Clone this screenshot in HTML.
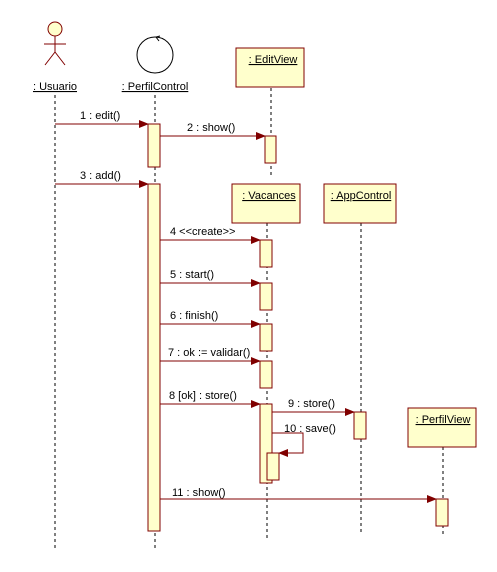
<!DOCTYPE html>
<html><head><style>body{margin:0;background:#fff}svg{display:block}text{font-family:"Liberation Sans",sans-serif;font-size:11px;fill:#000}</style></head><body>
<svg width="497" height="572" xmlns="http://www.w3.org/2000/svg">
<defs><marker id="a" markerWidth="10" markerHeight="8" refX="9" refY="4" orient="auto" markerUnits="userSpaceOnUse"><path d="M0,0L10,4L0,8z" fill="#800000"/></marker></defs>
<g stroke="#000" stroke-dasharray="3,3" fill="none">
<line x1="55" y1="95" x2="55" y2="550"/>
<line x1="155" y1="95" x2="155" y2="550"/>
<line x1="271" y1="88" x2="271" y2="176"/>
<line x1="267" y1="223" x2="267" y2="538"/>
<line x1="361" y1="223" x2="361" y2="533"/>
<line x1="443" y1="447" x2="443" y2="535"/>
</g>
<g stroke="#800000" fill="#ffffcc">
<circle cx="55" cy="29" r="7"/>
<rect x="236" y="48" width="68" height="39"/>
<rect x="232" y="184" width="68" height="39"/>
<rect x="324" y="184" width="72" height="39"/>
<rect x="408" y="408" width="68" height="39"/>
<rect x="148" y="124" width="12" height="43"/>
<rect x="148" y="184" width="12" height="347"/>
<rect x="265" y="136" width="11" height="27"/>
<rect x="260" y="240" width="12" height="27"/>
<rect x="260" y="283" width="12" height="27"/>
<rect x="260" y="324" width="12" height="27"/>
<rect x="260" y="361" width="12" height="27"/>
<rect x="260" y="404" width="12" height="79"/>
<rect x="267" y="453" width="12" height="27"/>
<rect x="354" y="412" width="12" height="27"/>
<rect x="436" y="499" width="12" height="27"/>
</g>
<g stroke="#800000" fill="none">
<path d="M55,36V52M44,44H66M55,52L45,65M55,52L65,65"/>
</g>
<circle cx="155" cy="55" r="18" stroke="#000" fill="none"/>
<path d="M160,36L156,37L159,41" stroke="#000" fill="none"/>
<g stroke="#800000" marker-end="url(#a)">
<line x1="55" y1="124" x2="148" y2="124"/>
<line x1="160" y1="136" x2="265" y2="136"/>
<line x1="55" y1="184" x2="148" y2="184"/>
<line x1="160" y1="240" x2="260" y2="240"/>
<line x1="160" y1="283" x2="260" y2="283"/>
<line x1="160" y1="324" x2="260" y2="324"/>
<line x1="160" y1="361" x2="260" y2="361"/>
<line x1="160" y1="404" x2="260" y2="404"/>
<line x1="272" y1="412" x2="354" y2="412"/>
<polyline points="272,433 303,433 303,453 279,453" fill="none"/>
<line x1="160" y1="499" x2="436" y2="499"/>
</g>
<g text-decoration="underline" text-anchor="middle">
<text x="55" y="90">: Usuario</text>
<text x="155" y="90">: PerfilControl</text>
<text x="273" y="63">: EditView</text>
<text x="269" y="199">: Vacances</text>
<text x="361" y="199">: AppControl</text>
<text x="443" y="423">: PerfilView</text>
</g>
<text x="80" y="119">1 : edit()</text>
<text x="187" y="131">2 : show()</text>
<text x="80" y="179">3 : add()</text>
<text x="170" y="235">4 &lt;&lt;create&gt;&gt;</text>
<text x="170" y="278">5 : start()</text>
<text x="170" y="319">6 : finish()</text>
<text x="168" y="356">7 : ok := validar()</text>
<text x="169" y="399">8 [ok] : store()</text>
<text x="288" y="407">9 : store()</text>
<text x="284" y="432">10 : save()</text>
<text x="172" y="496">11 : show()</text>
</svg>
</body></html>
